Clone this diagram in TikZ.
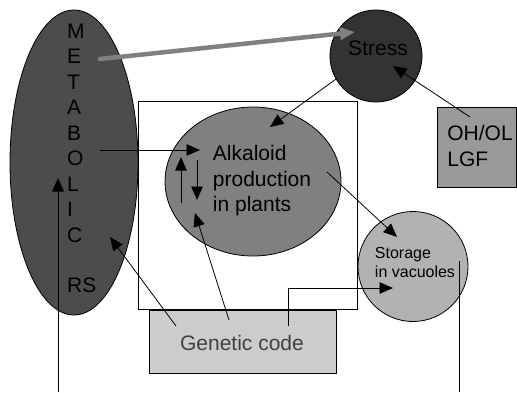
\documentclass[tikz,border=0pt]{standalone}
\usepackage{fontspec}
\setmainfont{Liberation Sans}
\usetikzlibrary{arrows.meta, shapes.geometric}

\definecolor{metabgray}{gray}{0.30}
\definecolor{stressgray}{gray}{0.20}
\definecolor{alkgray}{gray}{0.50}
\definecolor{storegray}{gray}{0.70}
\definecolor{ohgray}{gray}{0.60}
\definecolor{genegray}{gray}{0.80}

\begin{document}
\begin{tikzpicture}[
  x=1pt, y=-1pt,
  font=\fontsize{21}{25.5}\selectfont,
  >={Triangle[length=13.5pt, width=11.5pt]},
  blob/.style={draw, line width=0.8pt, inner sep=0pt},
  oval/.style={blob, ellipse},
  disc/.style={blob, circle},
  box/.style={blob, rectangle, anchor=north west},
  txt/.style={inner sep=0pt, align=left},
  letter/.style={inner sep=0pt, anchor=base west},
  arr/.style={->, line width=0.8pt},
  bigarr/.style={-{Triangle[length=15pt, width=12pt]}, line width=4.5pt, line cap=round, alkgray},
]
\useasboundingbox (0,0) rectangle (517,392);

\node[box, minimum width=219pt, minimum height=208pt] (frame) at (138,101) {};
\node[oval, fill=metabgray, minimum width=128pt, minimum height=305pt] (metab) at (74,162.5) {};
\node[disc, fill=stressgray, minimum size=92pt] (stress) at (376,56) {};
\node[box, fill=ohgray, minimum width=79pt, minimum height=80pt] (ohlgf) at (437,107) {};
\node[oval, fill=alkgray, minimum width=176pt, minimum height=149pt] (alk) at (253,181.5) {};
\node[disc, fill=storegray, minimum size=110pt] (store) at (413,266.5) {};
\node[box, fill=genegray, minimum width=187pt, minimum height=63pt] (gene) at (149,310) {};

\foreach \l [count=\i] in {M,E,T,A,B,O,L,I,C}
  \node[letter] (metab\i) at (67,{38+25.5*(\i-1)}) {\l};
\node[letter] (metabrs) at (67,292) {RS};
\node[inner sep=0pt, anchor=base] (stresstxt) at (378,55) {Stress};
\node[txt, font=\fontsize{21}{26.5}\selectfont] (ohtxt) at (480,146) {OH/OL\\LGF};
\node[txt] (alktxt) at (262,181) {Alkaloid\\production\\in plants};
\node[txt, font=\fontsize{16}{19}\selectfont] (storetxt) at (415,262) {Storage\\in vacuoles};
\node[inner sep=0pt, anchor=base, text=black!75] (genetxt) at (242,350) {Genetic code};

\coordinate (grayfrom) at (100,59);
\coordinate (grayto) at (355,32);
\coordinate (alktop) at (270,127);
\coordinate (ohfrom) at (470,117);
\coordinate (stressin) at (393,66);
\coordinate (metabfrom) at (100,150);
\coordinate (alkleft) at (200,150);
\coordinate (upfrom) at (181,203);
\coordinate (upto) at (181,157);
\coordinate (downfrom) at (197,160);
\coordinate (downto) at (197,200);
\coordinate (genea) at (229,320);
\coordinate (alklow) at (195,213);
\coordinate (geneb) at (176,326);
\coordinate (metabin) at (110,237);
\coordinate (genec) at (288,326);
\coordinate (storein) at (393,288);
\coordinate (alkright) at (327,172);
\coordinate (storetop) at (397,237);
\coordinate (leftfoot) at (58,392);
\coordinate (lefttip) at (58,178);
\coordinate (rightfrom) at (459,261);
\coordinate (rightfoot) at (459,392);

\draw[bigarr] (grayfrom) -- (grayto);
\draw[arr] (stress.210) -- (alktop);
\draw[arr] (ohfrom) -- (stressin);
\draw[arr] (metabfrom) -- (alkleft);
\draw[arr] (upfrom) -- (upto);
\draw[arr] (downfrom) -- (downto);
\draw[arr] (genea) -- (alklow);
\draw[arr] (geneb) -- (metabin);
\draw[arr] (genec) |- (storein);
\draw[arr] (alkright) -- (storetop);
\draw[arr] (leftfoot) -- (lefttip);
\draw[line width=0.8pt] (rightfrom) -- (rightfoot);
\end{tikzpicture}
\end{document}
